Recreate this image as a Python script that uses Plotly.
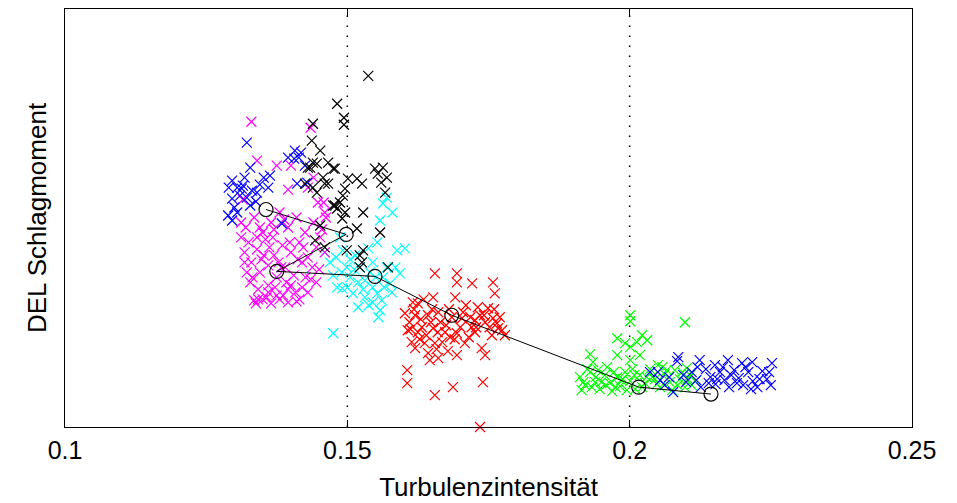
import plotly.graph_objects as go

# ---- data (x: turbulence intensity, y: DEL flap moment, arbitrary units) ----
magenta_x = [0.1330, 0.1435, 0.1340, 0.1375, 0.1400, 0.1440, 0.1395, 0.1430, 0.1315, 0.1460,
             0.1320, 0.1335, 0.1350, 0.1365, 0.1380, 0.1395, 0.1410, 0.1425, 0.1440, 0.1455,
             0.1325, 0.1340, 0.1355, 0.1370, 0.1385, 0.1400, 0.1415, 0.1430, 0.1445, 0.1460,
             0.1330, 0.1345, 0.1360, 0.1375, 0.1390, 0.1405, 0.1420, 0.1435, 0.1450,
             0.1328, 0.1342, 0.1357, 0.1372, 0.1386, 0.1400, 0.1415, 0.1430, 0.1445,
             0.1335, 0.1350, 0.1365, 0.1380, 0.1395, 0.1410, 0.1340, 0.1352, 0.1368, 0.1383,
             0.1398, 0.1412, 0.1426, 0.1318, 0.1322, 0.1312, 0.1360, 0.1375, 0.1338, 0.1448,
             0.1318, 0.1332, 0.1348, 0.1362, 0.1378, 0.1392, 0.1408, 0.1422, 0.1438, 0.1452,
             0.1462, 0.1458, 0.1345, 0.1370, 0.1388, 0.1342, 0.1360, 0.1395, 0.1420, 0.1312]
magenta_y = [306, 300, 267, 262, 262, 250, 238, 240, 228, 215,
             200, 210, 195, 205, 215, 200, 210, 195, 205, 198,
             185, 178, 188, 172, 182, 175, 185, 170, 180, 175,
             165, 155, 162, 150, 160, 152, 165, 148, 158,
             145, 138, 130, 140, 132, 142, 128, 135, 145,
             127, 128, 124, 128, 125, 126, 190, 172, 190, 160,
             185, 168, 150, 175, 155, 190, 142, 132, 124, 225,
             165, 150, 168, 180, 165, 145, 135, 180, 160, 190,
             210, 225, 200, 198, 208, 128, 135, 138, 140, 205]

blue1_x = [0.1322, 0.1328, 0.1352, 0.1296, 0.1313, 0.1331, 0.1340, 0.1296, 0.1310, 0.1328,
           0.1296, 0.1384, 0.1407, 0.1414, 0.1406, 0.1411, 0.1429, 0.1305, 0.1363, 0.1315,
           0.1289, 0.1322, 0.1345, 0.1300, 0.1418, 0.1425, 0.1338, 0.1318, 0.1360, 0.1290,
           0.1305, 0.1395]
blue1_y = [285, 260, 250, 247, 239, 237, 235, 229, 232, 222,
           207, 204, 277, 270, 269, 244, 245, 240, 252, 242,
           212, 230, 243, 220, 275, 262, 226, 250, 240, 240,
           215, 270]

black_x = [0.1537, 0.1482, 0.1494, 0.1494, 0.1439, 0.1437, 0.1439, 0.1446, 0.1466, 0.1475,
           0.1434, 0.1549, 0.1563, 0.1570, 0.1554, 0.1460, 0.1446, 0.1501, 0.1517, 0.1526,
           0.1496, 0.1492, 0.1487, 0.1482, 0.1496, 0.1491, 0.1478, 0.1528, 0.1567, 0.1558,
           0.1517, 0.1452, 0.1499, 0.1528, 0.1475, 0.1443, 0.1460, 0.1522, 0.1526, 0.1522,
           0.1572, 0.1452, 0.1430, 0.1457, 0.1425, 0.1466, 0.1439, 0.1478, 0.1560]
black_y = [352, 324, 310, 303, 304, 287, 265, 264, 265, 259,
           260, 259, 260, 250, 254, 244, 235, 249, 249, 244,
           239, 232, 225, 219, 215, 209, 222, 215, 235, 195,
           199, 202, 177, 177, 222, 187, 180, 172, 165, 160,
           160, 277, 260, 250, 244, 244, 240, 259, 245]

cyan_x = [0.1563, 0.1558, 0.1588, 0.1602, 0.1537, 0.1487, 0.1492, 0.1514, 0.1545, 0.1482,
          0.1491, 0.1510, 0.1553, 0.1561, 0.1558, 0.1475, 0.1576, 0.1593, 0.1505, 0.1531,
          0.1475, 0.1563, 0.1570, 0.1460, 0.1469, 0.1522, 0.1540, 0.1579, 0.1499, 0.1519,
          0.1545, 0.1531, 0.1505, 0.1490, 0.1553, 0.1570, 0.1580, 0.1519, 0.1545, 0.1585,
          0.1500, 0.1528, 0.1550, 0.1565, 0.1512, 0.1538, 0.1555, 0.1480]
cyan_y = [224, 207, 177, 179, 179, 190, 177, 172, 165, 140,
          139, 134, 134, 127, 117, 94, 144, 154, 150, 147,
          152, 150, 160, 175, 165, 160, 155, 135, 160, 145,
          125, 130, 168, 155, 185, 230, 215, 120, 140, 160,
          140, 138, 150, 140, 158, 122, 110, 170]

red_x = [0.1655, 0.1694, 0.1694, 0.1721, 0.1758, 0.1761, 0.1616, 0.1625, 0.1652, 0.1691,
         0.1731, 0.1749, 0.1758, 0.1602, 0.1620, 0.1643, 0.1661, 0.1703, 0.1726, 0.1744,
         0.1767, 0.1774, 0.1779, 0.1607, 0.1632, 0.1652, 0.1673, 0.1694, 0.1726, 0.1756,
         0.1614, 0.1637, 0.1655, 0.1682, 0.1708, 0.1620, 0.1643, 0.1661, 0.1646, 0.1694,
         0.1738, 0.1744, 0.1606, 0.1606, 0.1687, 0.1655, 0.1740, 0.1735,
         0.1630, 0.1665, 0.1680, 0.1710, 0.1735, 0.1640, 0.1668, 0.1700, 0.1715, 0.1625,
         0.1650, 0.1685, 0.1760, 0.1770, 0.1610, 0.1720,
         0.1618, 0.1635, 0.1648, 0.1660, 0.1675, 0.1690, 0.1705, 0.1718, 0.1728, 0.1742,
         0.1752, 0.1765, 0.1628, 0.1658, 0.1678, 0.1612]
red_y = [154, 154, 145, 144, 145, 134, 125, 124, 130, 130,
         120, 119, 109, 114, 112, 112, 115, 109, 107, 105,
         99, 97, 92, 97, 100, 99, 95, 94, 95, 92,
         85, 84, 84, 90, 84, 79, 74, 69, 67, 72,
         79, 72, 57, 44, 40, 32, 45, 0,
         108, 105, 118, 122, 112, 92, 85, 100, 90, 95,
         118, 110, 118, 110, 105, 100,
         118, 128, 105, 95, 102, 88, 115, 110, 100, 112,
         100, 104, 88, 78, 76, 98]

green_x = [0.2001, 0.2001, 0.2098, 0.1978, 0.2022, 0.2013, 0.2001, 0.1930, 0.1978, 0.2018,
           0.1935, 0.2001, 0.2050, 0.2101, 0.1992, 0.2031,
           0.1912, 0.1921, 0.1930, 0.1939, 0.1947, 0.1956, 0.1965, 0.1969, 0.1978, 0.1983,
           0.1992, 0.2001, 0.2010, 0.2018, 0.2027, 0.2036, 0.2045, 0.2054, 0.2062, 0.2071,
           0.2080, 0.2089, 0.2098, 0.2107, 0.2116, 0.1915, 0.1925, 0.1950, 0.1960, 0.1975,
           0.1988, 0.2005, 0.2022, 0.2040, 0.2058, 0.2075, 0.2093, 0.2110, 0.1940, 0.1995,
           0.1918, 0.1933, 0.1944, 0.1958, 0.1972, 0.1985, 0.2008, 0.2030, 0.2048, 0.2066,
           0.2085, 0.2103]
green_y = [112, 106, 105, 89, 92, 85, 80, 73, 72, 72,
           65, 67, 62, 59, 84, 87,
           50, 42, 55, 45, 38, 52, 44, 36, 50, 41,
           55, 46, 38, 52, 44, 58, 48, 40, 53, 45,
           57, 48, 40, 52, 46, 37, 58, 45, 60, 40,
           48, 58, 40, 50, 60, 37, 55, 42, 50, 37,
           45, 40, 57, 42, 55, 47, 52, 50, 43, 57,
           42, 48]

blue2_x = [0.2086, 0.2124, 0.2151, 0.2174, 0.2199, 0.2217, 0.2252, 0.2036, 0.2050, 0.2077,
           0.2054, 0.2084, 0.2110, 0.2118, 0.2126, 0.2135, 0.2143, 0.2152, 0.2160, 0.2168,
           0.2176, 0.2185, 0.2193, 0.2201, 0.2210, 0.2218, 0.2226, 0.2235, 0.2243, 0.2250,
           0.2120, 0.2140, 0.2165, 0.2190, 0.2205, 0.2230, 0.2247, 0.2100, 0.2095, 0.2070,
           0.2062, 0.2180, 0.2215, 0.2155]
blue2_y = [70, 67, 62, 67, 64, 65, 64, 55, 55, 35,
           47, 66, 55, 47, 40, 58, 50, 43, 55, 47,
           40, 57, 49, 42, 55, 46, 40, 56, 48, 42,
           60, 44, 60, 44, 60, 48, 55, 45, 52, 50,
           42, 52, 38, 48]

# bin means (connected line with circles)
mean_x = [0.1356, 0.1498, 0.1375, 0.1549, 0.1685, 0.2016, 0.2144]
mean_y = [218, 193, 156, 151, 112, 40, 33]

x_ticks = [0.1, 0.15, 0.2, 0.25]
x_tick_text = ["0.1", "0.15", "0.2", "0.25"]
ref_lines = [0.15, 0.2]

series = [
    (red_x, red_y, "#ff0000"),
    (cyan_x, cyan_y, "#00ffff"),
    (magenta_x, magenta_y, "#ff00ff"),
    (blue1_x, blue1_y, "#0000ff"),
    (black_x, black_y, "#000000"),
    (green_x, green_y, "#00ff00"),
    (blue2_x, blue2_y, "#0000ff"),
]

fig = go.Figure()
for xs, ys, col in series:
    fig.add_trace(go.Scatter(
        x=xs, y=ys, mode="markers", cliponaxis=False,
        marker=dict(symbol="x-thin-open", size=10, color=col,
                    line=dict(color=col, width=1.2)),
        showlegend=False, hoverinfo="skip"))

fig.add_trace(go.Scatter(
    x=mean_x, y=mean_y, mode="lines+markers", cliponaxis=False,
    line=dict(color="black", width=1),
    marker=dict(symbol="circle-open", size=14, color="black",
                line=dict(color="black", width=1.2)),
    showlegend=False, hoverinfo="skip"))

for xv in ref_lines:
    fig.add_shape(type="line", xref="x", yref="paper", x0=xv, x1=xv, y0=0, y1=1,
                  line=dict(color="black", width=1.5, dash="1.5px,8.5px"), layer="below")

font_family = "Liberation Sans, Arial, sans-serif"
fig.update_layout(
    width=949, height=495,
    margin=dict(l=57, r=45, t=1, b=76),
    paper_bgcolor="white", plot_bgcolor="white",
    font=dict(family=font_family, color="black"),
    xaxis=dict(range=[0.1, 0.25], tickvals=x_ticks, ticktext=x_tick_text,
               ticks="inside", ticklen=7, tickcolor="black", tickwidth=1,
               showline=True, linecolor="black", linewidth=1, mirror="allticks",
               showgrid=False, zeroline=False, tickfont=dict(size=25),
               ticklabelstandoff=1,
               title=dict(text="Turbulenzintensität", font=dict(size=26), standoff=14)),
    yaxis=dict(range=[0, 419], showticklabels=False, ticks="",
               showline=True, linecolor="black", linewidth=1, mirror=True,
               showgrid=False, zeroline=False,
               title=dict(text="DEL Schlagmoment", font=dict(size=26), standoff=9)),
)

fig.write_html("out.html")
